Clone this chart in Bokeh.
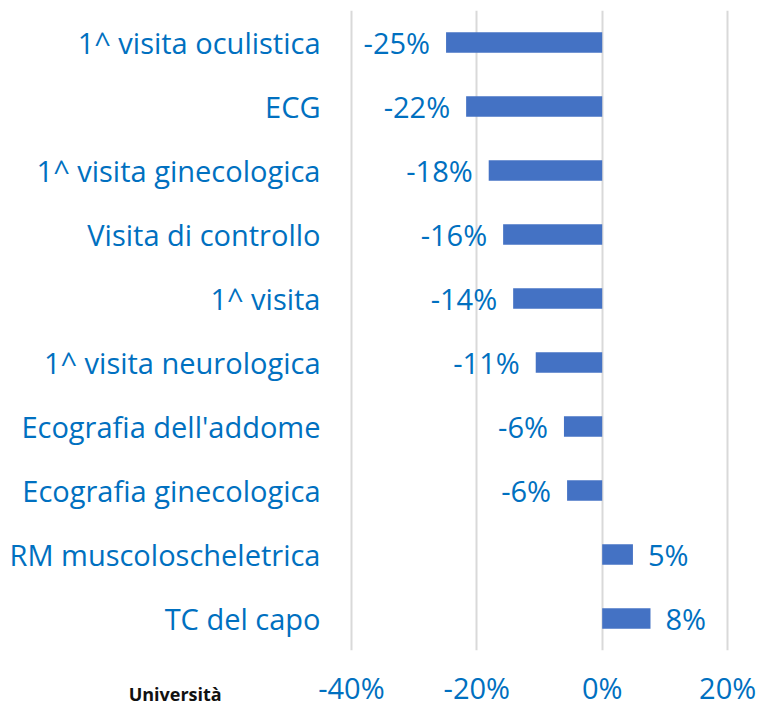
from bokeh.plotting import figure
from bokeh.models import (ColumnDataSource, FixedTicker, PrintfTickFormatter,
                          LinearAxis, Range1d)
from bokeh.core.properties import value
from bokeh.embed import file_html
from bokeh.resources import INLINE

categories = [
    "1^ visita oculistica",
    "ECG",
    "1^ visita ginecologica",
    "Visita di controllo",
    "1^ visita",
    "1^ visita neurologica",
    "Ecografia dell'addome",
    "Ecografia ginecologica",
    "RM muscoloscheletrica",
    "TC del capo",
]
values = [-24.9, -21.7, -18.1, -15.8, -14.2, -10.6, -6.1, -5.6, 4.9, 7.7]
x_ticks = [-40, -20, 0, 20]
logo_text = "Università"

TEXT = "#0070C0"
BAR = "#4472C4"
FONT = "Open Sans"
FS = "29px"

p = figure(
    width=758, height=709,
    y_range=list(reversed(categories)),
    x_range=(-40.3, 20.3),
    output_backend="svg", toolbar_location=None,
    min_border_left=349, min_border_right=29, min_border_top=10, min_border_bottom=57,
)
p.outline_line_color = None
p.background_fill_color = "white"
p.border_fill_color = "white"

src = ColumnDataSource(dict(cat=categories, val=values))
p.hbar(y="cat", left=0, right="val", height=0.32, source=src,
       fill_color=BAR, line_color=None)

neg = [(c, v) for c, v in zip(categories, values) if v < 0]
pos = [(c, v) for c, v in zip(categories, values) if v >= 0]
neg_src = ColumnDataSource(dict(cat=[c for c, _ in neg], val=[v for _, v in neg],
                                lab=[f"{round(v):d}%" for _, v in neg]))
pos_src = ColumnDataSource(dict(cat=[c for c, _ in pos], val=[v for _, v in pos],
                                lab=[f"{round(v):d}%" for _, v in pos]))
p.text(x="val", y="cat", text="lab", source=neg_src, x_offset=-16, y_offset=0,
       text_align="right", text_baseline="middle", text_color=TEXT,
       text_font=value(FONT), text_font_size=FS)
p.text(x="val", y="cat", text="lab", source=pos_src, x_offset=15, y_offset=0,
       text_align="left", text_baseline="middle", text_color=TEXT,
       text_font=value(FONT), text_font_size=FS)

p.xaxis.ticker = FixedTicker(ticks=x_ticks)
p.xaxis.formatter = PrintfTickFormatter(format="%d%%")
p.xgrid.ticker = FixedTicker(ticks=x_ticks)
p.xgrid.grid_line_color = "#D9D9D9"
p.xgrid.grid_line_width = 2
p.ygrid.grid_line_color = None

for ax in (p.xaxis[0], p.yaxis[0]):
    ax.axis_line_color = None
    ax.major_tick_line_color = None
    ax.minor_tick_line_color = None
    ax.major_tick_out = 0
    ax.major_tick_in = 0
    ax.minor_tick_out = 0
    ax.major_label_text_color = TEXT
    ax.major_label_text_font = FONT
    ax.major_label_text_font_size = FS
p.xaxis.major_label_standoff = 17
p.yaxis.major_label_standoff = 29

# logo caption, drawn by a secondary (label-only) axis tucked under the first one
p.extra_x_ranges = {"logo": Range1d(-1.5, 98.5)}
logo_axis = LinearAxis(
    x_range_name="logo",
    ticker=FixedTicker(ticks=[0]),
    major_label_overrides={0: logo_text + "\u2003" * 20},
    axis_line_color=None, major_tick_line_color=None, minor_tick_line_color=None,
    major_tick_out=0, major_tick_in=0, minor_tick_out=0, minor_tick_in=0,
    major_label_standoff=-28,
    major_label_text_font=FONT, major_label_text_font_style="bold",
    major_label_text_font_size="18px", major_label_text_color="#111111",
)
p.add_layout(logo_axis, "below")

open("out.html", "w").write(file_html(p, INLINE))
